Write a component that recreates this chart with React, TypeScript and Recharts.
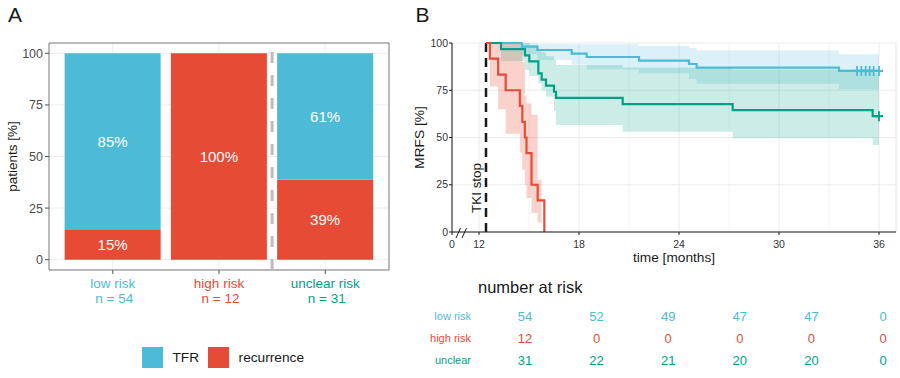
import React from 'react';
import {
  BarChart, Bar, XAxis, YAxis, CartesianGrid, ReferenceLine, ReferenceArea, LabelList, Legend,
  ComposedChart, Area, Line, Scatter, ScatterChart,
} from 'recharts';

const FONT = '"Liberation Sans", Arial, Helvetica, sans-serif';
const BLUE = '#4DBBD5';
const RED = '#E64B35';
const GREEN = '#00A087';
const TEXT = '#4D4D4D';

// ---------- Panel A data ----------
const categories = ['low risk', 'high risk', 'unclear risk'];
const categoryN = [54, 12, 31];
const categoryColors = [BLUE, RED, GREEN];
const recurrencePct = [14.8, 100, 38.7];
const tfrPct = [85.2, 0, 61.3];
const pctTicks = [0, 25, 50, 75, 100];
const pctMinorTicks = [12.5, 37.5, 62.5, 87.5];
const groupDivider = 2.5;
const legendItems = [
  { key: 'tfr', label: 'TFR', color: BLUE },
  { key: 'recurrence', label: 'recurrence', color: RED },
];

// ---------- Panel B data ----------
const axisZero = 10.38; // broken axis: position labelled "0"
const monthTicks = [12, 18, 24, 30, 36];
const minorMonthTicks = [15, 21, 27, 33];
const mrfsTicks = [0, 25, 50, 75, 100];
const tkiStop = 12.42;
const tkiLabelLevel = 23.3;

const lowTimes = [12.42, 14.56, 15.5, 17.56, 18.46, 21.6, 24.6, 25.06, 33.6, 36];
const lowSurv = [100, 98.1, 96.3, 94.4, 92.6, 90.7, 88.9, 87.0, 85.2, 85.2];
const lowLower = [100, 94, 91, 88.5, 86, 84, 81, 78.5, 75.5, 75.5];
const lowUpper = [100, 100, 99.5, 99.3, 99.3, 98.4, 97.5, 96, 94, 94];
const lowCensor = [34.68, 34.94, 35.2, 35.44, 35.68, 36.0];
const lowCensorLevel = 85.2;

const greenTimes = [12.42, 13.32, 14.76, 15.02, 15.56, 15.76, 16.02, 16.5, 16.62, 20.62, 27.22, 35.62, 36];
const greenSurv = [100, 96.8, 93.5, 90.3, 83.9, 80.6, 77.4, 74.2, 71.0, 67.7, 64.5, 61.3, 61.3];
const greenLower = [100, 90.5, 85.7, 82.5, 78.7, 75, 71.6, 64, 56.6, 53, 49.6, 46, 46];
const greenUpper = [100, 100, 100, 99, 97, 95, 93, 91, 88.3, 87, 86, 84, 84];
const greenCensor = [36.0];
const greenCensorLevel = 61.3;

const redTimes = [12.42, 12.65, 13.15, 13.6, 14.45, 14.6, 14.75, 14.85, 15.15, 15.52, 15.92];
const redSurv = [100, 91.7, 83.3, 75, 66.7, 58.3, 50, 41.7, 25, 16.7, 0];
const redBandTimes = [12.42, 12.65, 13.15, 13.6, 14.45, 14.6, 14.75, 14.85, 15.15, 15.52, 15.75];
const redLower = [100, 77, 65, 52, 42, 33, 25, 18, 10, 5, 5];
const redUpper = [100, 100, 100, 100, 98, 90, 72, 68, 62, 27.5, 27.5];

const axisBreakSlashes = [
  [{ t: 10.62, v: -3.2 }, { t: 10.89, v: 2.1 }],
  [{ t: 10.98, v: -3.2 }, { t: 11.25, v: 2.1 }],
];

// ---------- Number at risk ----------
const riskRowLabels = ['low risk', 'high risk', 'unclear'];
const riskRowColors = [BLUE, RED, GREEN];
const riskLow = [54, 52, 49, 47, 47, 0];
const riskHigh = [12, 0, 0, 0, 0, 0];
const riskUnclear = [31, 22, 21, 20, 20, 0];
const riskValues = [riskLow, riskHigh, riskUnclear];

// ---------- derived tables ----------
const barData = categories.map((c, i) => ({
  pos: i + 1, category: c, recurrence: recurrencePct[i], tfr: tfrPct[i],
}));

function stepAt(times: number[], vals: number[], t: number): number | null {
  if (t < times[0] || t > times[times.length - 1]) return null;
  let v: number | null = null;
  for (let i = 0; i < times.length; i++) if (times[i] <= t) v = vals[i];
  return v;
}
function bandAt(times: number[], lo: number[], hi: number[], t: number): number[] | null {
  const a = stepAt(times, lo, t);
  const b = stepAt(times, hi, t);
  return a == null || b == null ? null : [a, b];
}
const allTimes = Array.from(new Set([...lowTimes, ...greenTimes, ...redTimes, ...redBandTimes])).sort((a, b) => a - b);
const kmData = allTimes.map((t) => ({
  t,
  low: stepAt(lowTimes, lowSurv, t),
  unclear: stepAt(greenTimes, greenSurv, t),
  high: stepAt(redTimes, redSurv, t),
  lowBand: bandAt(lowTimes, lowLower, lowUpper, t),
  unclearBand: bandAt(greenTimes, greenLower, greenUpper, t),
  highBand: bandAt(redBandTimes, redLower, redUpper, t),
}));
const lowCensorData = lowCensor.map((t) => ({ t, v: lowCensorLevel }));
const greenCensorData = greenCensor.map((t) => ({ t, v: greenCensorLevel }));
const tkiLabelData = [{ t: tkiStop, v: tkiLabelLevel }];

// ---------- custom renderers ----------
const CategoryTick = (props: any) => {
  const { x, y, payload } = props;
  const i = Math.round(payload.value) - 1;
  if (i < 0 || i > 2) return null;
  return (
    <g>
      <text x={x} y={y + 12.3} textAnchor="middle" fill={categoryColors[i]} fontSize={13.5}>{categories[i]}</text>
      <text x={x + 1.5} y={y + 27.3} textAnchor="middle" fill={categoryColors[i]} fontSize={13.5}>{`n = ${categoryN[i]}`}</text>
    </g>
  );
};

const YLabelA = (props: any) => {
  const vb = props.viewBox || { x: 9, y: 43, width: 40, height: 227 };
  const x = vb.x + 8;
  const y = vb.y + vb.height / 2;
  return (
    <text x={x} y={y} transform={`rotate(-90, ${x}, ${y})`} textAnchor="middle" fill="#1A1A1A" fontSize={13.5}>patients [%]</text>
  );
};

const YLabelB = (props: any) => {
  const vb = props.viewBox || { x: 20, y: 43, width: 32, height: 189 };
  const x = vb.x + 4;
  const y = vb.y + vb.height / 2;
  return (
    <text x={x} y={y} transform={`rotate(-90, ${x}, ${y})`} textAnchor="middle" fill="#1A1A1A" fontSize={13.7}>MRFS [%]</text>
  );
};

const XLabelB = (props: any) => {
  const vb = props.viewBox || { x: 52, y: 232, width: 444, height: 30 };
  return (
    <text x={vb.x + vb.width / 2} y={vb.y + 30} textAnchor="middle" fill="#1A1A1A" fontSize={13.7}>time [months]</text>
  );
};

const plusShape = (color: string) => (props: any) => {
  const { cx, cy } = props;
  if (cx == null || cy == null) return null;
  return (
    <g>
      <line x1={cx} x2={cx} y1={cy - 5} y2={cy + 5} stroke={color} strokeWidth={1.8} />
      <line x1={cx - 4} x2={cx + 4} y1={cy} y2={cy} stroke={color} strokeWidth={2.2} />
    </g>
  );
};

const tkiLabelShape = (props: any) => {
  const { cx, cy } = props;
  if (cx == null || cy == null) return null;
  const x = cx - 5;
  return (
    <text x={x} y={cy} transform={`rotate(-90, ${x}, ${cy})`} textAnchor="middle" fill="#1A1A1A" fontSize={13.4}>TKI stop</text>
  );
};

const riskShape = (color: string) => (props: any) => {
  const { cx, cy, payload } = props;
  if (cx == null || cy == null) return null;
  return (
    <text x={cx} y={cy} dy="0.35em" textAnchor="middle" fill={color} fontSize={13}>{payload.n}</text>
  );
};

const RowTick = (props: any) => {
  const { y, payload } = props;
  const i = Math.round(payload.value);
  return (
    <text x={71} y={y} dy="0.35em" textAnchor="end" fill={riskRowColors[i]} fontSize={11}>{riskRowLabels[i]}</text>
  );
};

const renderLegend = () => (
  <div style={{ display: 'flex', alignItems: 'center', fontFamily: FONT, fontSize: 13.7, color: '#1A1A1A' }}>
    {legendItems.map((it, i) => (
      <div key={it.key} style={{ display: 'flex', alignItems: 'center', marginRight: i === 0 ? 9 : 0 }}>
        <span style={{ width: 21, height: 21, background: it.color, display: 'inline-block', marginRight: 9.5 }} />
        <span>{it.label}</span>
      </div>
    ))}
  </div>
);

const pctFormat = (v: any) => (Number(v) > 0 ? `${Math.round(Number(v))}%` : '');

export default function App() {
  return (
    <div style={{ position: 'absolute', left: 0, top: 0, width: 900, height: 378, background: '#fff', overflow: 'hidden', fontFamily: FONT }}>
      <div style={{ position: 'absolute', left: 8, top: 4, fontSize: 21, lineHeight: 1, color: '#1A1A1A' }}>A</div>
      <div style={{ position: 'absolute', left: 415.5, top: 4, fontSize: 21, lineHeight: 1, color: '#1A1A1A' }}>B</div>

      {/* Panel A */}
      <div style={{ position: 'absolute', left: 0, top: 0 }}>
        <BarChart width={400} height={378} data={barData} margin={{ top: 43, right: 11, bottom: 68, left: 9 }}>
          <CartesianGrid yAxisId="minor" vertical={false} stroke="#F5F5F5" strokeWidth={0.8} />
          <CartesianGrid stroke="#EDEDED" strokeWidth={1} />
          <XAxis dataKey="pos" type="number" domain={[0.4, 3.6]} ticks={[1, 2, 3]} interval={0}
            axisLine={false} tickLine={{ stroke: '#555' }} tickSize={4} tickMargin={2} height={40}
            tick={<CategoryTick />} />
          <YAxis type="number" domain={[-5, 105]} ticks={pctTicks} width={40} axisLine={false}
            tickLine={{ stroke: '#555' }} tickSize={4} tickMargin={2}
            tick={{ fill: TEXT, fontSize: 12.5 }} label={(p: any) => <YLabelA {...p} />} />
          <YAxis yAxisId="minor" type="number" domain={[-5, 105]} ticks={pctMinorTicks} hide />
          <Bar dataKey="recurrence" stackId="a" fill={RED} barSize={96} isAnimationActive={false}>
            <LabelList dataKey="recurrence" position="center" fill="#fff" fontSize={15} formatter={pctFormat} />
          </Bar>
          <Bar dataKey="tfr" stackId="a" fill={BLUE} barSize={96} isAnimationActive={false}>
            <LabelList dataKey="tfr" position="center" fill="#fff" fontSize={15} formatter={pctFormat} />
          </Bar>
          <ReferenceLine x={groupDivider} stroke="#BDBDBD" strokeWidth={3} strokeDasharray="11 12" />
          <ReferenceArea x1={0.4} x2={3.6} y1={-5} y2={105} fill="none" stroke="#7F7F7F" strokeWidth={1} />
          <Legend layout="horizontal" verticalAlign="middle" align="center" content={renderLegend}
            wrapperStyle={{ left: 142, top: 347, width: 240, height: 21 }} />
        </BarChart>
      </div>

      {/* Panel B */}
      <div style={{ position: 'absolute', left: 400, top: 0 }}>
        <ComposedChart width={500} height={270} data={kmData} margin={{ top: 43, right: 4, bottom: 8, left: 20 }}>
          <CartesianGrid xAxisId="minor" horizontal={false} stroke="#F4F4F4" />
          <CartesianGrid stroke="#EBEBEB" />
          <XAxis dataKey="t" type="number" domain={[axisZero, 37.02]} ticks={[axisZero, ...monthTicks]} interval={0}
            tickFormatter={(v: number) => (v === axisZero ? '0' : String(v))}
            height={30} axisLine={{ stroke: '#1A1A1A' }} tickLine={{ stroke: '#1A1A1A' }} tickSize={3} tickMargin={6}
            tick={{ fill: '#333', fontSize: 10.5 }} label={(p: any) => <XLabelB {...p} />} />
          <XAxis xAxisId="minor" dataKey="t" type="number" domain={[axisZero, 37.02]} ticks={minorMonthTicks} hide />
          <YAxis type="number" domain={[0, 100]} ticks={mrfsTicks} width={32}
            axisLine={{ stroke: '#1A1A1A' }} tickLine={{ stroke: '#1A1A1A' }} tickSize={3} tickMargin={1}
            tick={{ fill: '#333', fontSize: 10.5 }} label={(p: any) => <YLabelB {...p} />} />
          <Area type="stepAfter" dataKey="lowBand" stroke="none" fill={BLUE} fillOpacity={0.2} isAnimationActive={false} activeDot={false} dot={false} />
          <Area type="stepAfter" dataKey="unclearBand" stroke="none" fill={GREEN} fillOpacity={0.2} isAnimationActive={false} activeDot={false} dot={false} />
          <Area type="stepAfter" dataKey="highBand" stroke="none" fill={RED} fillOpacity={0.25} isAnimationActive={false} activeDot={false} dot={false} />
          <ReferenceLine x={tkiStop} stroke="#1A1A1A" strokeWidth={2.5} strokeDasharray="9 6" />
          <Line type="stepAfter" dataKey="low" stroke={BLUE} strokeWidth={2.2} dot={false} activeDot={false} isAnimationActive={false} />
          <Line type="stepAfter" dataKey="unclear" stroke={GREEN} strokeWidth={2.2} dot={false} activeDot={false} isAnimationActive={false} />
          <Line type="stepAfter" dataKey="high" stroke={RED} strokeWidth={2.2} dot={false} activeDot={false} isAnimationActive={false} />
          <Scatter data={lowCensorData} dataKey="v" shape={plusShape(BLUE)} isAnimationActive={false} />
          <Scatter data={greenCensorData} dataKey="v" shape={plusShape(GREEN)} isAnimationActive={false} />
          <Scatter data={tkiLabelData} dataKey="v" shape={tkiLabelShape} isAnimationActive={false} />
          {axisBreakSlashes.map((seg, i) => (
            <ReferenceLine key={i} segment={[{ x: seg[0].t, y: seg[0].v }, { x: seg[1].t, y: seg[1].v }]}
              stroke="#1A1A1A" strokeWidth={1} ifOverflow="visible" />
          ))}
        </ComposedChart>
      </div>

      {/* Number at risk */}
      <div style={{ position: 'absolute', left: 478, top: 279, fontSize: 16.5, lineHeight: 1, color: '#1A1A1A' }}>number at risk</div>
      <div style={{ position: 'absolute', left: 400, top: 265 }}>
        <ScatterChart width={500} height={113} margin={{ top: 51, right: 17, bottom: 18, left: 0 }}>
          <XAxis type="number" dataKey="col" domain={[0, 5]} hide />
          <YAxis type="number" dataKey="row" domain={[0, 2]} reversed ticks={[0, 1, 2]} interval={0} width={125}
            axisLine={false} tickLine={false} tick={<RowTick />} />
          {riskValues.map((vals, ri) => (
            <Scatter key={ri} data={vals.map((n, ci) => ({ col: ci, row: ri, n }))}
              shape={riskShape(riskRowColors[ri])} isAnimationActive={false} />
          ))}
        </ScatterChart>
      </div>
    </div>
  );
}
